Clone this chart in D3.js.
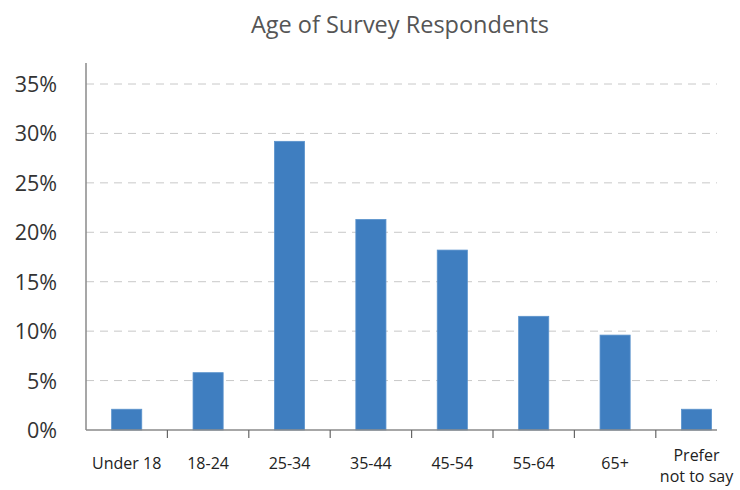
<!DOCTYPE html>
<html lang="en">

<head>
    <meta charset="UTF-8">
    <title>age-bar</title>
    <script src="https://cdn.jsdelivr.net/npm/d3@7"></script>
    <style>
        body { margin: 0; background: #fff; }
        text { font-family: "Open Sans", "Noto Sans", sans-serif; }
    </style>
</head>

<body>
    <svg width="740" height="490" id="mainsvg"></svg>
    <script>
        // data
        const categories = ['Under 18', '18-24', '25-34', '35-44', '45-54', '55-64', '65+', 'Prefer not to say']
        const shares = [2.1, 5.8, 29.2, 21.3, 18.2, 11.5, 9.6, 2.1]
        const yTicks = [0, 5, 10, 15, 20, 25, 30, 35]

        const svg = d3.select('#mainsvg')
        const x0 = 86, xEnd = 717, y0 = 430, yTop = 63

        const xScale = d3.scaleBand().domain(categories).range([x0, x0 + 81.4 * 8]).paddingInner(0.63).paddingOuter(0.315)
        const yScale = d3.scaleLinear().domain([0, 35]).range([y0, 84])

        // title
        svg.append('text').attr('x', 400).attr('y', 33).attr('text-anchor', 'middle')
            .attr('font-size', 23.5).attr('fill', '#555').text('Age of Survey Respondents')

        // gridlines
        svg.append('g').selectAll('line').data(yTicks.slice(1)).join('line')
            .attr('x1', x0).attr('x2', xEnd)
            .attr('y1', d => yScale(d)).attr('y2', d => yScale(d))
            .attr('stroke', '#c8c8c8').attr('stroke-dasharray', '8,6')

        // y labels
        svg.append('g').selectAll('text').data(yTicks).join('text')
            .attr('x', 57).attr('y', d => yScale(d) + 8)
            .attr('text-anchor', 'end').attr('font-size', 21.5).attr('fill', '#333')
            .text(d => d + '%')

        // bars
        svg.append('g').selectAll('rect').data(shares).join('rect')
            .attr('x', (d, i) => xScale(categories[i]))
            .attr('width', xScale.bandwidth())
            .attr('y', d => yScale(d))
            .attr('height', d => y0 - yScale(d))
            .attr('fill', '#3f7ec0')
            .attr('stroke', '#5b93cc').attr('stroke-width', 0.8)

        // axes
        svg.append('line').attr('x1', x0).attr('x2', x0).attr('y1', yTop).attr('y2', y0)
            .attr('stroke', '#8a8a8a').attr('stroke-width', 1.5)
        svg.append('line').attr('x1', x0).attr('x2', xEnd).attr('y1', y0).attr('y2', y0)
            .attr('stroke', '#8a8a8a').attr('stroke-width', 1.5)
        const step = xScale.step()
        svg.append('g').selectAll('line').data(categories.slice(1)).join('line')
            .attr('x1', d => xScale(d) - (step - xScale.bandwidth()) / 2)
            .attr('x2', d => xScale(d) - (step - xScale.bandwidth()) / 2)
            .attr('y1', y0).attr('y2', y0 + 8)
            .attr('stroke', '#666').attr('stroke-width', 1.2)

        // x labels
        const xl = svg.append('g').selectAll('text').data(categories).join('text')
            .attr('x', d => xScale(d) + xScale.bandwidth() / 2)
            .attr('y', d => d.startsWith('Prefer') ? 461 : 469)
            .attr('text-anchor', 'middle').attr('font-size', 16).attr('fill', '#222')
        xl.each(function (d) {
            const t = d3.select(this)
            if (d.startsWith('Prefer')) {
                t.append('tspan').attr('x', t.attr('x')).text('Prefer')
                t.append('tspan').attr('x', t.attr('x')).attr('dy', 21).text('not to say')
            } else {
                t.text(d)
            }
        })
    </script>
</body>

</html>
